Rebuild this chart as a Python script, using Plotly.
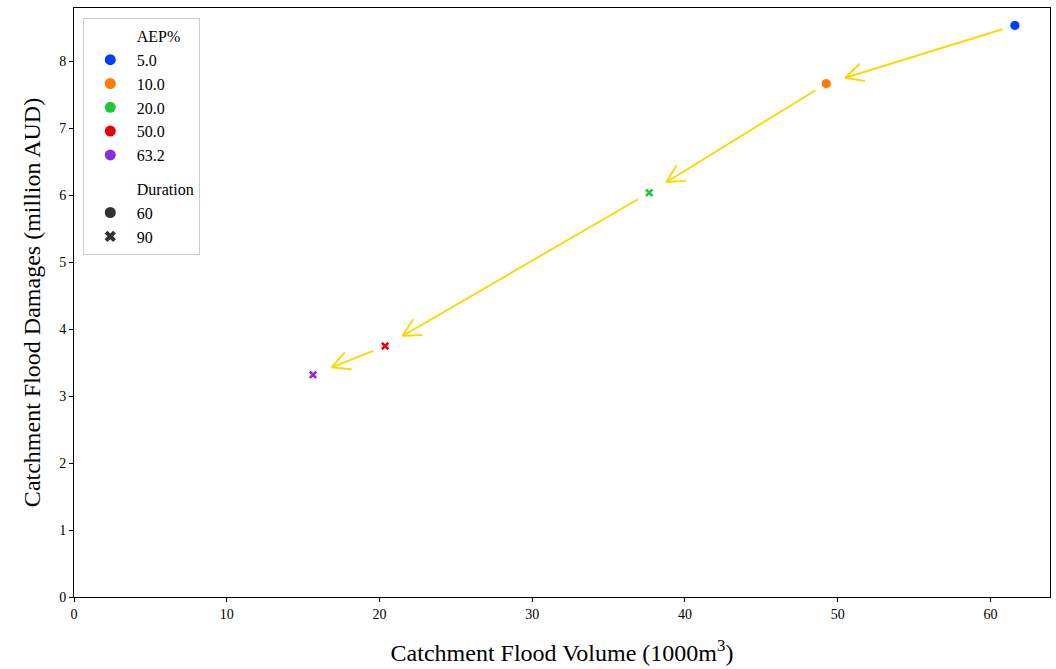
import math
import plotly.graph_objects as go

# Data
aep = ["5.0", "10.0", "20.0", "50.0", "63.2"]
duration = [60, 60, 90, 90, 90]
volume = [61.6, 49.25, 37.66, 20.37, 15.65]
damages = [8.54, 7.67, 6.04, 3.75, 3.32]
aep_colors = ["#023eff", "#ff7c00", "#1ac938", "#e8000b", "#8b2be2"]
duration_levels = [60, 90]
duration_symbols = {60: "circle", 90: "x"}

font_family = "Liberation Serif, Times New Roman, serif"

W, H = 1056, 669
ML, MR, MT, MB = 74, 6, 8, 72
XR = [0, 63.9]
YR = [0, 8.8]
sx = (W - ML - MR) / (XR[1] - XR[0])   # px per x unit
sy = (H - MT - MB) / (YR[1] - YR[0])   # px per y unit

fig = go.Figure()

# arrows between consecutive points (computed from data in pixel space)
ax_x, ax_y = [], []
shrink_start, shrink_end, head_len, head_ang = 13, 20, 20, math.radians(27)
for i in range(len(aep) - 1):
    x0, y0 = volume[i] * sx, damages[i] * sy
    x1, y1 = volume[i + 1] * sx, damages[i + 1] * sy
    L = math.hypot(x1 - x0, y1 - y0)
    dx, dy = (x1 - x0) / L, (y1 - y0) / L
    sxp, syp = x0 + dx * shrink_start, y0 + dy * shrink_start
    tx, ty = x1 - dx * shrink_end, y1 - dy * shrink_end
    ax_x += [sxp / sx, tx / sx, None]
    ax_y += [syp / sy, ty / sy, None]
    for sgn in (1, -1):
        c, s = math.cos(sgn * head_ang), math.sin(sgn * head_ang)
        bx, by = -dx, -dy
        wx, wy = bx * c - by * s, bx * s + by * c
        ax_x += [tx / sx, (tx + wx * head_len) / sx, None]
        ax_y += [ty / sy, (ty + wy * head_len) / sy, None]

fig.add_trace(go.Scatter(x=ax_x, y=ax_y, mode="lines",
                         line=dict(color="#FFD700", width=1.9),
                         showlegend=False, hoverinfo="skip"))

# data points
for i in range(len(aep)):
    fig.add_trace(go.Scatter(
        x=[volume[i]], y=[damages[i]], mode="markers",
        marker=dict(color=aep_colors[i], symbol=duration_symbols[duration[i]],
                    size=10 if duration[i] == 60 else 8,
                    line=dict(color="white", width=0.8)),
        showlegend=False, hoverinfo="x+y"))

# legend entries
fig.add_trace(go.Scatter(x=[None], y=[None], mode="markers", name="AEP%", legendgroup="aep",
                         marker=dict(color="rgba(0,0,0,0)", size=9)))
for i in range(len(aep)):
    fig.add_trace(go.Scatter(x=[None], y=[None], mode="markers", name=aep[i], legendgroup="aep",
                             marker=dict(color=aep_colors[i], symbol="circle", size=11)))
fig.add_trace(go.Scatter(x=[None], y=[None], mode="markers", name="Duration", legendgroup="dur",
                         marker=dict(color="rgba(0,0,0,0)", size=9)))
for d in duration_levels:
    fig.add_trace(go.Scatter(x=[None], y=[None], mode="markers", name=str(d), legendgroup="dur",
                             marker=dict(color="#333333", symbol=duration_symbols[d],
                                         size=11 if d == 60 else 10)))

axis_common = dict(showline=True, linecolor="black", linewidth=1, mirror=True,
                   ticks="outside", ticklen=4, tickcolor="black", showgrid=False,
                   zeroline=False, automargin=False,
                   tickfont=dict(family=font_family, size=14, color="black"))

fig.update_layout(
    width=W, height=H,
    margin=dict(l=ML, r=MR, t=MT, b=MB),
    plot_bgcolor="white", paper_bgcolor="white",
    font=dict(family=font_family, color="black"),
    xaxis=dict(range=XR, dtick=10,
               title=dict(text="Catchment Flood Volume (1000m<sup>3</sup>)",
                          font=dict(family=font_family, size=24), standoff=23),
               **axis_common),
    yaxis=dict(range=YR, dtick=1,
               title=dict(text="Catchment Flood Damages (million AUD)",
                          font=dict(family=font_family, size=24), standoff=11),
               **axis_common),
    legend=dict(x=0.009, y=0.983, xanchor="left", yanchor="top",
                bordercolor="#cccccc", borderwidth=1, bgcolor="rgba(255,255,255,0.8)",
                font=dict(family=font_family, size=16, color="black"),
                tracegroupgap=10, itemwidth=43),
)

fig.write_html("out.html", config={"displayModeBar": False},
               post_script="document.body.style.margin='0';")
